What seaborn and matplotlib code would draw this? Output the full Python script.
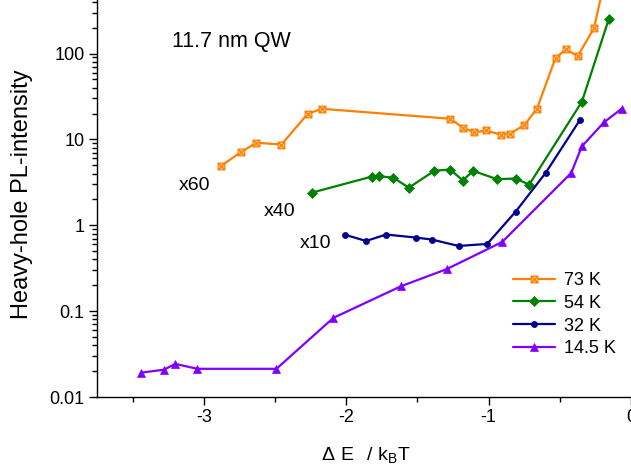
import numpy as np
import pandas as pd
import matplotlib
matplotlib.use("Agg")
import matplotlib.pyplot as plt
import seaborn as sns
from matplotlib.path import Path
from matplotlib.ticker import FixedLocator, FixedFormatter, LogLocator, NullFormatter, MultipleLocator

# ---- data ----
x73 = [-2.88, -2.74, -2.63, -2.455, -2.27, -2.17, -1.27, -1.18, -1.10, -1.02,
       -0.91, -0.85, -0.75, -0.66, -0.53, -0.455, -0.375, -0.26, -0.18]
y73 = [4.9, 7.1, 9.15, 8.7, 19.9, 22.7, 17.4, 13.7, 12.05, 12.7,
       11.3, 11.7, 14.6, 22.8, 89, 112, 93, 197, 770]

x54 = [-2.24, -1.82, -1.77, -1.67, -1.56, -1.38, -1.27, -1.18, -1.11, -0.94,
       -0.81, -0.715, -0.345, -0.155]
y54 = [2.4, 3.69, 3.72, 3.59, 2.74, 4.32, 4.45, 3.32, 4.3, 3.44,
       3.5, 2.97, 27.4, 255]

x32 = [-2.01, -1.86, -1.72, -1.51, -1.40, -1.21, -1.01, -0.81, -0.60, -0.36]
y32 = [0.776, 0.656, 0.78, 0.719, 0.682, 0.574, 0.606, 1.44, 4.06, 16.7]

x14 = [-3.44, -3.28, -3.20, -3.045, -2.49, -2.09, -1.615, -1.295, -0.905,
       -0.42, -0.345, -0.19, -0.065]
y14 = [0.0192, 0.0208, 0.0243, 0.0213, 0.0213, 0.0835, 0.195, 0.308, 0.638,
       4.06, 8.3, 15.8, 22.8]

labels = ["73 K", "54 K", "32 K", "14.5 K"]
yticks = [0.01, 0.1, 1, 10, 100]
yticklabels = ["0.01", "0.1", "1", "10", "100"]
xticks = [-3, -2, -1, 0]
xticklabels = ["-3", "-2", "-1", "0"]
scale_notes = ["x60", "x40", "x10"]

# ---- style ----
sns.set_theme(style="ticks")
plt.rcParams["font.family"] = ["Liberation Sans", "DejaVu Sans"]
plt.rcParams["axes.unicode_minus"] = False
plt.rcParams["mathtext.default"] = "regular"

W, H = 631, 472
fig = plt.figure(figsize=(W / 100, H / 100), dpi=100)
L, R, B, T = 97, 631, 397, 0
ax = fig.add_axes([L / W, 1 - B / H, (R - L) / W, (B - T) / H])

# square-with-cross marker
sq_x = Path([(-1, -1), (1, -1), (1, 1), (-1, 1), (-1, -1), (-1, -1), (1, 1), (-1, 1), (1, -1)],
            [Path.MOVETO, Path.LINETO, Path.LINETO, Path.LINETO, Path.CLOSEPOLY,
             Path.MOVETO, Path.LINETO, Path.MOVETO, Path.LINETO])

c73, c54, c32, c14 = "#ff8000", "#008000", "#000090", "#8000ff"

sns.lineplot(x=x73, y=y73, ax=ax, color=c73, lw=1.6, marker=sq_x, markersize=4.8,
             markerfacecolor="#ffc890", markeredgecolor=c73, markeredgewidth=0.9, label=labels[0])
sns.lineplot(x=x54, y=y54, ax=ax, color=c54, lw=1.6, marker="D", markersize=4.8,
             markerfacecolor=c54, markeredgecolor=c54, markeredgewidth=0.5, label=labels[1])
sns.lineplot(x=x32, y=y32, ax=ax, color=c32, lw=1.6, marker="o", markersize=4.4,
             markerfacecolor=c32, markeredgecolor=c32, markeredgewidth=0.5, label=labels[2])
sns.lineplot(x=x14, y=y14, ax=ax, color=c14, lw=1.6, marker="^", markersize=5.5,
             markerfacecolor=c14, markeredgecolor=c14, markeredgewidth=0.5, label=labels[3])

ax.set_yscale("log")
ax.set_xlim(-3.75, 0)
ax.set_ylim(0.01, 420)

ax.yaxis.set_major_locator(FixedLocator(yticks))
ax.yaxis.set_major_formatter(FixedFormatter(yticklabels))
ax.yaxis.set_minor_locator(LogLocator(base=10, subs=np.arange(2, 10)))
ax.yaxis.set_minor_formatter(NullFormatter())
ax.set_xticks(xticks)
ax.set_xticklabels(xticklabels)
ax.xaxis.set_minor_locator(MultipleLocator(0.5))

ax.tick_params(axis="both", which="major", direction="out", length=6, width=1,
               labelsize=13, color="black", labelcolor="black", pad=3)
ax.tick_params(axis="both", which="minor", direction="out", length=3.5, width=1, color="black")
sns.despine(ax=ax)
for s in ("left", "bottom"):
    ax.spines[s].set_color("black")
    ax.spines[s].set_linewidth(1.0)

ax.set_ylabel("Heavy-hole PL-intensity", fontsize=17, color="black")
ax.yaxis.set_label_coords((33 - L) / (R - L), (B - 194) / (B - T))
ax.set_xlabel(r"$\Delta\ E\ \ /\ k_B T$", fontsize=14, color="black")
ax.xaxis.set_label_coords((366 - L) / (R - L), (B - 445) / (B - T))

leg = ax.legend(loc="upper left", bbox_to_anchor=((513 - L) / (R - L), (B - 272) / (B - T)),
                frameon=False, fontsize=13, handlelength=2.35, handletextpad=0.5,
                labelspacing=0.32, borderpad=0, borderaxespad=0)
for t in leg.get_texts():
    t.set_color("black")

fig.text(231 / W, 1 - 42 / H, "11.7 nm QW", fontsize=15.5, ha="center", va="center", color="black")
for (px, py), s in zip([(195, 185), (280, 212), (316, 244)], scale_notes):
    fig.text(px / W, 1 - py / H, s, fontsize=14, ha="center", va="center", color="black")

fig.savefig("out.png", dpi=100)
